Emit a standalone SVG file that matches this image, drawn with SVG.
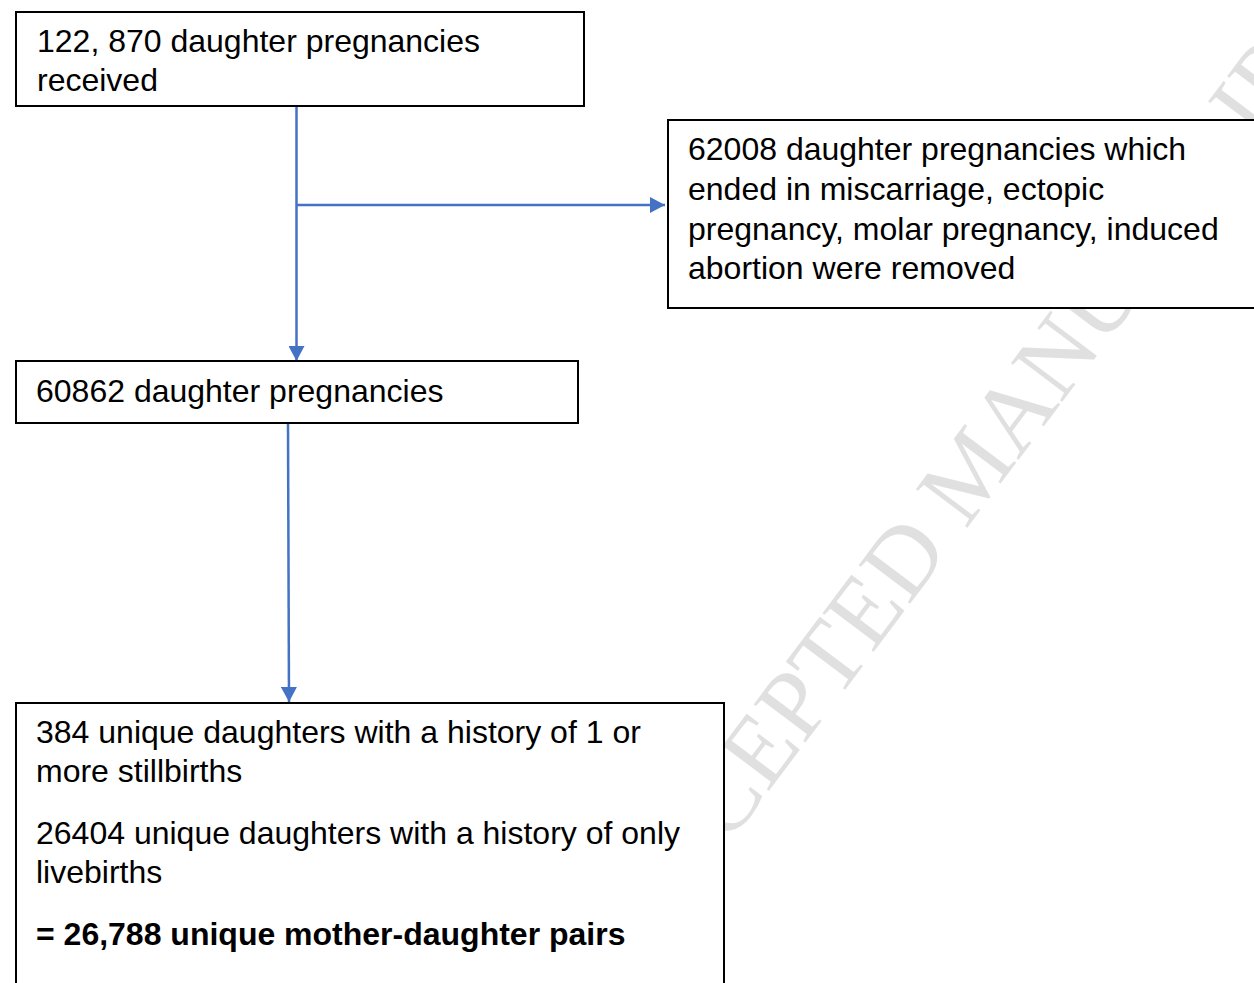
<svg xmlns="http://www.w3.org/2000/svg" width="1254" height="983" viewBox="0 0 1254 983">
<style>
.box{fill:#ffffff;stroke:#000000;stroke-width:2}
.t{font-family:"Liberation Sans",Arial,sans-serif;font-size:32px;fill:#000000}
.b{font-weight:bold}
.wm{font-family:"Liberation Serif","Times New Roman",serif;font-size:98px;fill:#e0e0e0}
.c{stroke:#4472C4;stroke-width:2.5;fill:none}
</style>
<defs>
<marker id="ah" markerWidth="16" markerHeight="16" refX="15" refY="8" orient="auto" markerUnits="userSpaceOnUse">
<path d="M0,0 L15,8 L0,16 Z" fill="#4472C4"/>
</marker>
</defs>
<rect width="1254" height="983" fill="#ffffff"/>
<text class="wm" transform="translate(646,954) rotate(-53)">ACCEPTED MANUSCRIPT</text>
<g id="connectors">
<line class="c" x1="296.5" y1="106" x2="296.5" y2="361" marker-end="url(#ah)"/>
<line class="c" x1="297" y1="205" x2="665" y2="205" marker-end="url(#ah)"/>
<line class="c" x1="288" y1="423" x2="289" y2="702" marker-end="url(#ah)"/>
</g>
<g id="n1">
<rect class="box" x="16" y="12" width="568" height="94"/>
<text class="t" x="37" y="52">122, 870 daughter pregnancies</text>
<text class="t" x="37" y="91">received</text>
</g>
<g id="n2">
<rect class="box" x="668" y="120" width="600" height="188"/>
<text class="t" x="688" y="160">62008 daughter pregnancies which</text>
<text class="t" x="688" y="200">ended in miscarriage, ectopic</text>
<text class="t" x="688" y="240">pregnancy, molar pregnancy, induced</text>
<text class="t" x="688" y="279">abortion were removed</text>
</g>
<g id="n3">
<rect class="box" x="16" y="361" width="562" height="62"/>
<text class="t" x="36" y="402">60862 daughter pregnancies</text>
</g>
<g id="n4">
<rect class="box" x="16" y="703" width="708" height="300"/>
<text class="t" x="36" y="743">384 unique daughters with a history of 1 or</text>
<text class="t" x="36" y="782">more stillbirths</text>
<text class="t" x="36" y="844">26404 unique daughters with a history of only</text>
<text class="t" x="36" y="883">livebirths</text>
<text class="t b" x="36" y="945">= 26,788 unique mother-daughter pairs</text>
</g>
</svg>
